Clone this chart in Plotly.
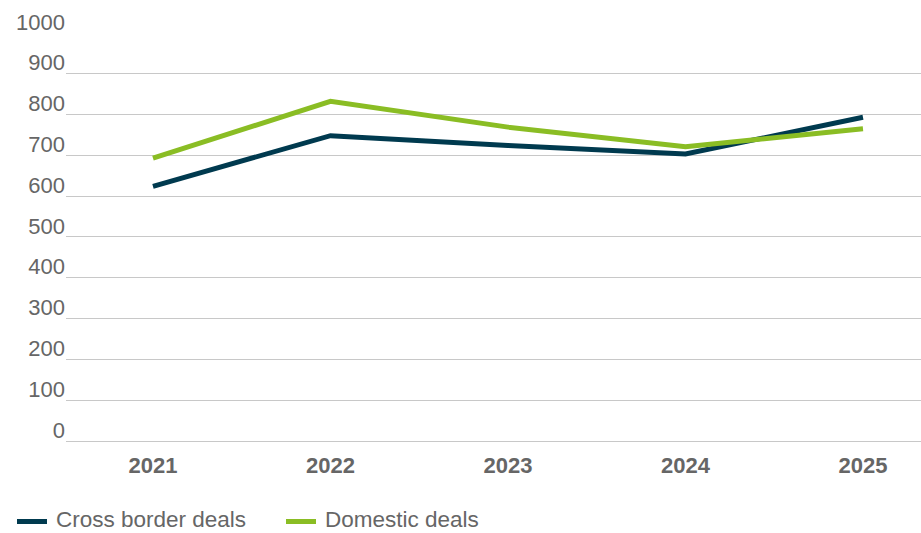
import plotly.graph_objects as go

years = ["2021", "2022", "2023", "2024", "2025"]
cross_border = [624, 748, 724, 703, 793]
domestic = [693, 832, 769, 721, 765]
y_ticks = [0, 100, 200, 300, 400, 500, 600, 700, 800, 900, 1000]
series_names = ["Cross border deals", "Domestic deals"]
series_colors = ["#003a4f", "#8abd24"]

W, H = 921, 533
ML, MT, MB = 66, 32, 92
PW, PH = W - ML, H - MT - MB
FONT = "Arial, Liberation Sans, sans-serif"

xpos = list(range(len(years)))


def px_x(p):
    return (p - ML) / PW


def px_y(p):
    return (H - MB - p) / PH


fig = go.Figure()
for name, vals, col in zip(series_names, [cross_border, domestic], series_colors):
    fig.add_trace(go.Scatter(x=xpos, y=vals, mode="lines", name=name,
                             line=dict(color=col, width=5), showlegend=False))

# legend drawn below the plot
legend_sym_x = [17, 286]
legend_y = 519.5
for sx, name, col in zip(legend_sym_x, series_names, series_colors):
    fig.add_shape(type="line", xref="paper", yref="paper",
                  x0=px_x(sx), x1=px_x(sx + 30), y0=px_y(legend_y + 2), y1=px_y(legend_y + 2),
                  line=dict(color=col, width=5))
    fig.add_annotation(xref="paper", yref="paper", x=px_x(sx + 38), y=px_y(legend_y),
                       xanchor="left", yanchor="middle", text=name, showarrow=False,
                       font=dict(size=22.5, color="#666666", family=FONT), borderpad=0)

fig.update_layout(
    width=W, height=H,
    margin=dict(l=ML, r=0, t=MT, b=MB),
    plot_bgcolor="white", paper_bgcolor="white",
    font=dict(family=FONT, color="#666666"),
    showlegend=False,
    xaxis=dict(range=[-0.49, (W - ML) / 177.5 - 0.49], tickvals=xpos, ticktext=years,
               showgrid=False, zeroline=False, showline=False, ticks="",
               tickfont=dict(size=22, color="#666666", family=FONT, weight="bold"),
               ticklabelstandoff=9),
    yaxis=dict(range=[0, 1002], tickvals=y_ticks, showgrid=True, gridcolor="#c8c8c8",
               gridwidth=1, zeroline=True, zerolinecolor="#c8c8c8", zerolinewidth=1,
               showline=False, ticks="", ticklabelshift=-11, ticklabelstandoff=0,
               tickfont=dict(size=22, color="#666666", family=FONT)),
)

fig.write_html("out.html")
